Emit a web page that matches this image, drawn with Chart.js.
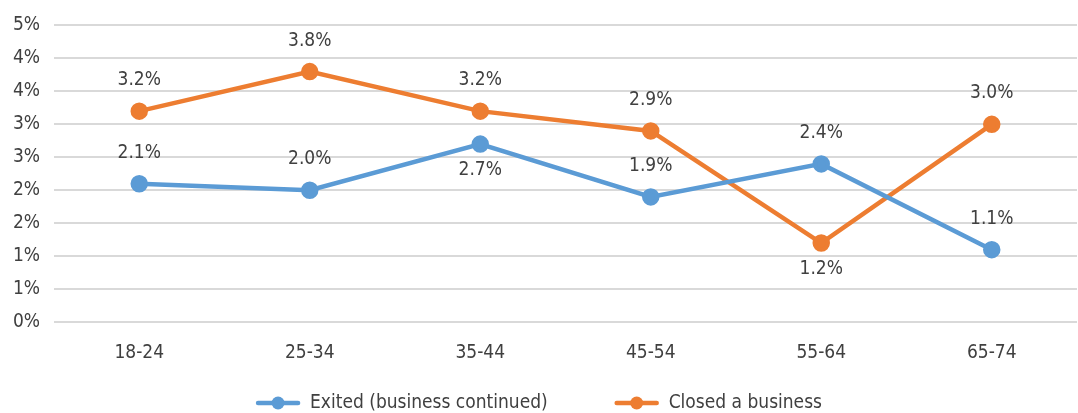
<!DOCTYPE html>
<html>
<head>
<meta charset="utf-8">
<script src="https://cdn.jsdelivr.net/npm/chart.js@4"></script>
<style>
    html, body { margin: 0; padding: 0; background: #fff; }
    #wrap { width: 1078px; height: 413px; }
</style>
</head>
<body>
<div id="wrap"><canvas id="exitChart"></canvas></div>
<script>
// Data
const ageGroups = ['18-24', '25-34', '35-44', '45-54', '55-64', '65-74'];
const exitedValues = [2.1, 2.0, 2.7, 1.9, 2.4, 1.1];
const closedValues = [3.2, 3.8, 3.2, 2.9, 1.2, 3.0];
const yTicks = [0, 0.5, 1, 1.5, 2, 2.5, 3, 3.5, 4, 4.5];

// where each value label sits (1 = above point, -1 = below)
const exitedLabelSide = [1, 1, -1, 1, 1, 1];
const closedLabelSide = [1, 1, 1, 1, -1, 1];

const FONT = '"DejaVu Sans Condensed", "Liberation Sans Narrow", sans-serif';
const TEXT = '#404040';
const BLUE = '#5b9bd5';
const ORANGE = '#ed7d31';

// draws the percentage labels next to each point
const valueLabels = {
    id: 'valueLabels',
    afterDatasetsDraw(chart) {
        const ctx = chart.ctx;
        ctx.save();
        ctx.font = '19px ' + FONT;
        ctx.fillStyle = TEXT;
        ctx.textAlign = 'center';
        ctx.textBaseline = 'middle';
        chart.data.datasets.forEach((ds, i) => {
            const meta = chart.getDatasetMeta(i);
            meta.data.forEach((pt, j) => {
                const dy = ds.labelSide[j] > 0 ? -31 : 26;
                ctx.fillText(ds.data[j].toFixed(1) + '%', pt.x, pt.y + dy);
            });
        });
        ctx.restore();
    }
};

// legend drawn by hand: line + dot swatch, then the text
const lineLegend = {
    id: 'lineLegend',
    afterDraw(chart) {
        const ctx = chart.ctx;
        const y = 403;
        const swatch = 44, gap = 10, itemGap = 67;
        ctx.save();
        ctx.font = '19px ' + FONT;
        const items = chart.data.datasets.map(ds => ({
            text: ds.label,
            color: ds.borderColor,
            w: ctx.measureText(ds.label).width
        }));
        let total = 0;
        items.forEach((it, i) => {
            total += swatch + gap + it.w + (i < items.length - 1 ? itemGap : 0);
        });
        let x = chart.width / 2 - total / 2;
        items.forEach(it => {
            ctx.strokeStyle = it.color;
            ctx.lineWidth = 4.5;
            ctx.lineCap = 'round';
            ctx.beginPath();
            ctx.moveTo(x + 2, y);
            ctx.lineTo(x + swatch - 2, y);
            ctx.stroke();
            ctx.fillStyle = it.color;
            ctx.beginPath();
            ctx.arc(x + swatch / 2, y, 6.5, 0, Math.PI * 2);
            ctx.fill();
            ctx.fillStyle = TEXT;
            ctx.textAlign = 'left';
            ctx.textBaseline = 'middle';
            ctx.fillText(it.text, x + swatch + gap, y);
            x += swatch + gap + it.w + itemGap;
        });
        ctx.restore();
    }
};

const ctx = document.getElementById('exitChart').getContext('2d');

const exitChart = new Chart(ctx, {
    type: 'line',
    data: {
        labels: ageGroups,
        datasets: [{
            label: 'Exited (business continued)',
            data: exitedValues,
            labelSide: exitedLabelSide,
            borderColor: BLUE,
            backgroundColor: BLUE,
            borderWidth: 4.5,
            pointRadius: 6.5,
            pointHoverRadius: 6.5,
            tension: 0
        }, {
            label: 'Closed a business',
            data: closedValues,
            labelSide: closedLabelSide,
            borderColor: ORANGE,
            backgroundColor: ORANGE,
            borderWidth: 4.5,
            pointRadius: 6.5,
            pointHoverRadius: 6.5,
            tension: 0
        }]
    },
    options: {
        responsive: true,
        maintainAspectRatio: false,
        animation: false,
        layout: {
            autoPadding: false,
            padding: { top: 3, right: 1, bottom: 38, left: 0 }
        },
        plugins: {
            tooltip: { enabled: false },
            legend: { display: false }
        },
        scales: {
            x: {
                offset: true,
                grid: { display: false },
                border: { display: false },
                afterFit(scale) {
                    scale.paddingLeft = 0;
                    scale.paddingRight = 0;
                },
                ticks: {
                    font: { family: FONT, size: 19 },
                    color: TEXT,
                    padding: 11
                }
            },
            y: {
                min: 0,
                max: 4.5,
                afterBuildTicks(scale) {
                    scale.ticks = yTicks.map(v => ({ value: v }));
                },
                afterFit(scale) {
                    scale.width = 54;
                },
                grid: { color: '#d9d9d9', lineWidth: 2, drawTicks: false },
                border: { display: false },
                ticks: {
                    font: { family: FONT, size: 19 },
                    color: TEXT,
                    padding: 14,
                    callback: v => Math.round(v) + '%'
                }
            }
        }
    },
    plugins: [valueLabels, lineLegend]
});
</script>
</body>
</html>
